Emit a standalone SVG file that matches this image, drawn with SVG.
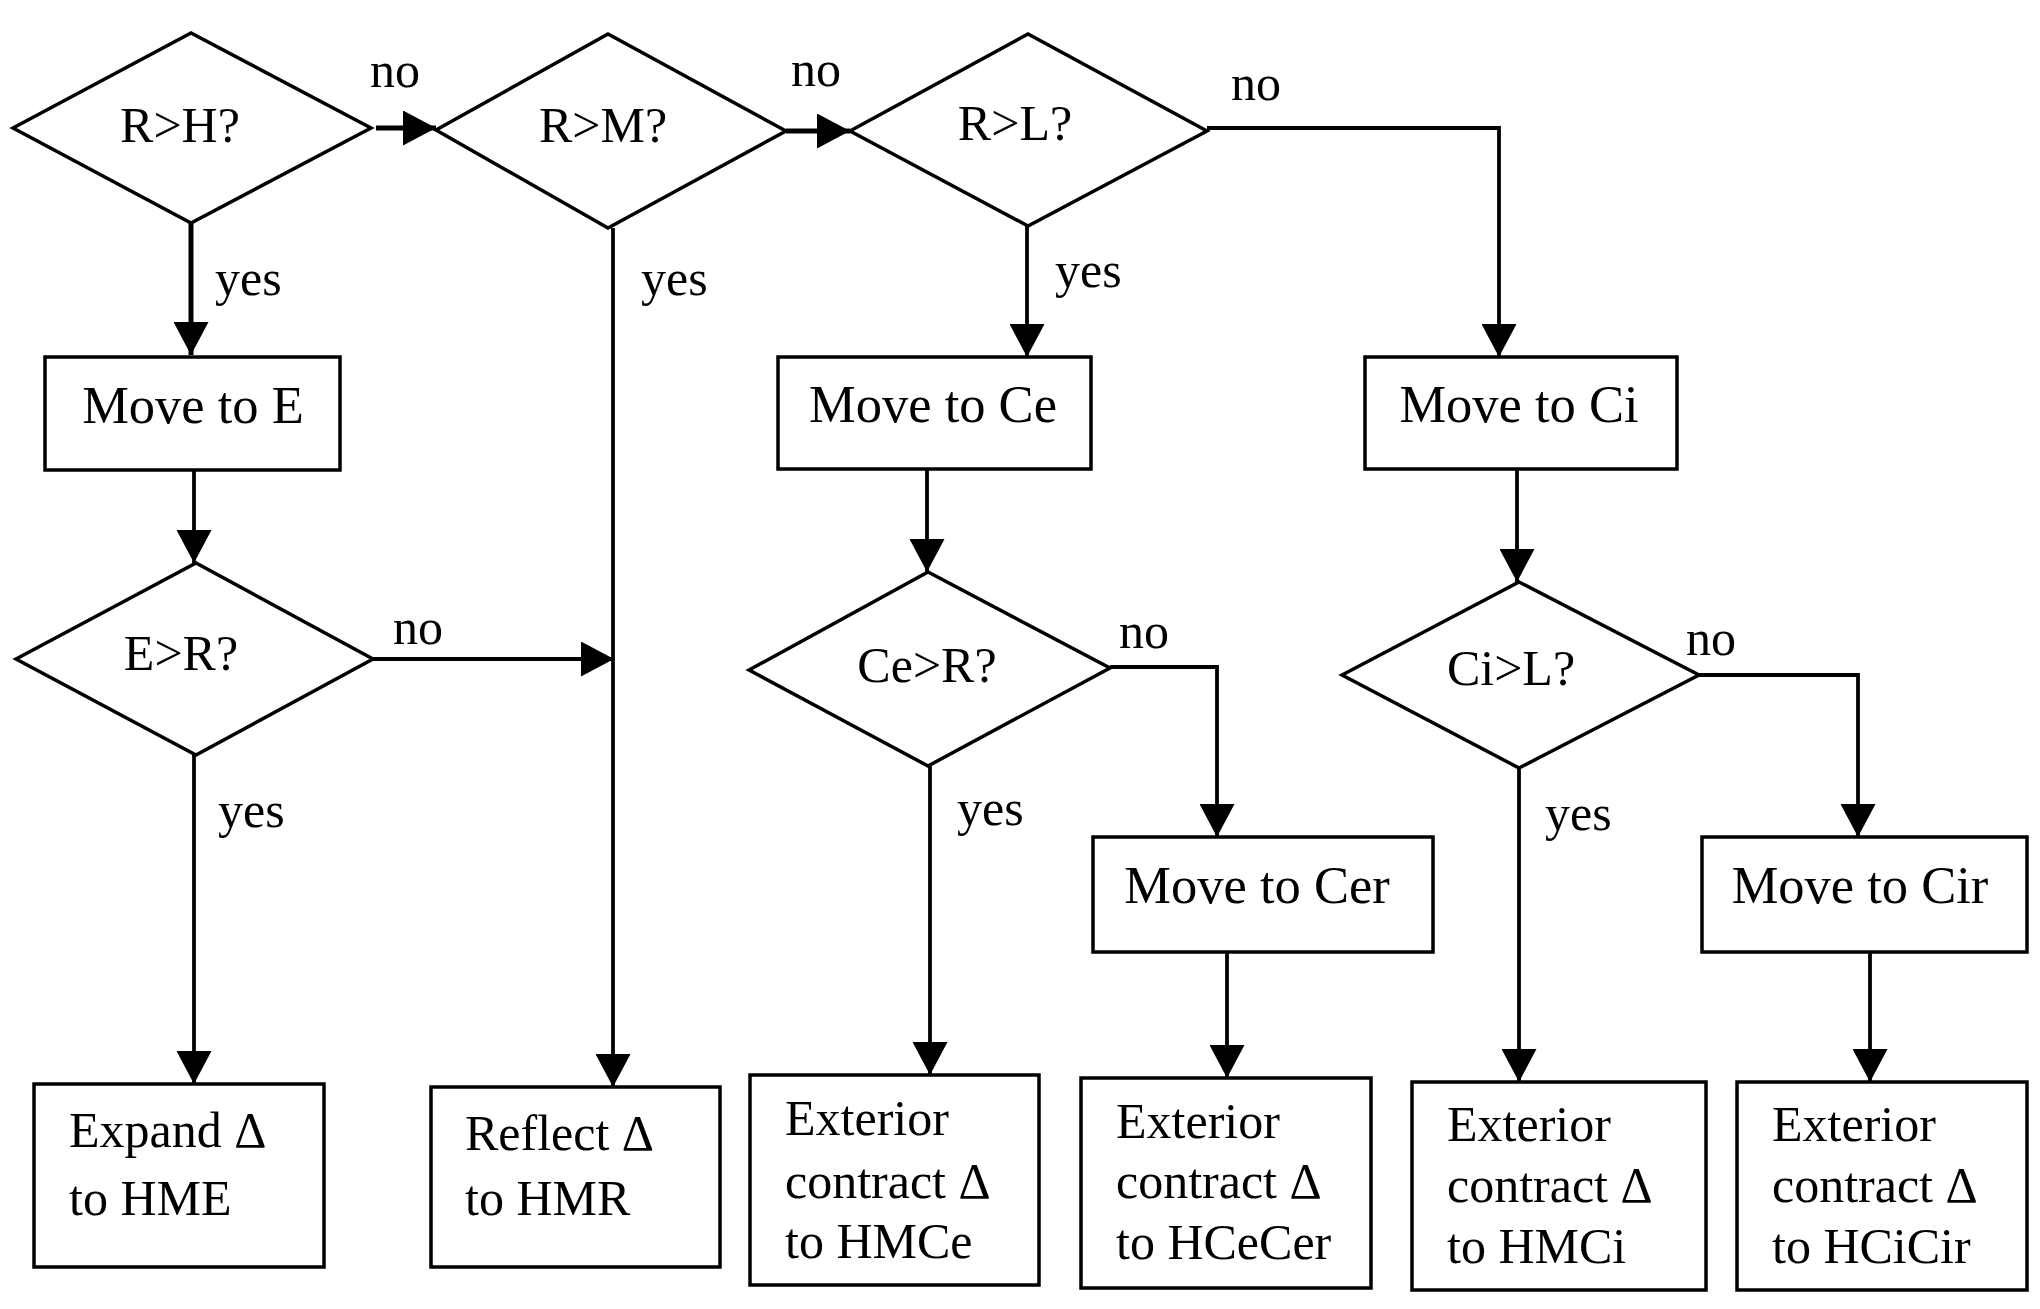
<svg xmlns="http://www.w3.org/2000/svg" width="2040" height="1309" viewBox="0 0 2040 1309">
<style>
  .shape { fill: #ffffff; stroke: #000000; stroke-width: 3.5; stroke-linejoin: miter; }
  .conn { fill: none; stroke: #000000; stroke-width: 3.8; marker-end: url(#arrow); }
  .thick { stroke-width: 5; }
  text { font-family: "Liberation Serif", "Times New Roman", serif; font-size: 50px; fill: #000000; }
  .mid { text-anchor: middle; }
  .big { font-size: 52.5px; }
</style>
<defs>
  <marker id="arrow" markerUnits="userSpaceOnUse" markerWidth="33" markerHeight="35" refX="33" refY="17.5" orient="auto">
    <path d="M0,0 L33,17.5 L0,35 Z" fill="#000000"/>
  </marker>
</defs>
<rect x="0" y="0" width="2040" height="1309" fill="#ffffff"/>

<g id="connectors">
  <path class="conn thick" d="M376,128 H436"/>
  <path class="conn thick" d="M786,131 H850"/>
  <path class="conn" d="M1207,128 H1499 V357"/>
  <path class="conn thick" d="M191,223 V355"/>
  <path class="conn" d="M613,228 V1087"/>
  <path class="conn" d="M194,470 V563"/>
  <path class="conn" d="M373,659 H614"/>
  <path class="conn" d="M194,755 V1084"/>
  <path class="conn" d="M1027,226 V357"/>
  <path class="conn" d="M927,469 V572"/>
  <path class="conn" d="M1110,667 H1217 V837"/>
  <path class="conn" d="M930,766 V1075"/>
  <path class="conn" d="M1227,952 V1078"/>
  <path class="conn" d="M1517,469 V582"/>
  <path class="conn" d="M1699,675 H1858 V837"/>
  <path class="conn" d="M1519,768 V1082"/>
  <path class="conn" d="M1870,952 V1082"/>
  <text x="370" y="87">no</text>
  <text x="791" y="86">no</text>
  <text x="1231" y="100">no</text>
  <text x="215" y="295">yes</text>
  <text x="641" y="295">yes</text>
  <text x="1055" y="287">yes</text>
  <text x="393" y="644">no</text>
  <text x="218" y="827">yes</text>
  <text x="1119" y="648">no</text>
  <text x="957" y="825">yes</text>
  <text x="1686" y="655">no</text>
  <text x="1545" y="830">yes</text>
</g>

<g id="dec-RH">
  <polygon class="shape" points="13,128 191,33 371,128 191,223"/>
  <text class="mid" x="180" y="142">R&gt;H?</text>
</g>
<g id="dec-RM">
  <polygon class="shape" points="436,130 608,34 786,131 608,228"/>
  <text class="mid" x="603" y="142">R&gt;M?</text>
</g>
<g id="dec-RL">
  <polygon class="shape" points="850,131 1028,34 1207,131 1028,226"/>
  <text class="mid" x="1015" y="140">R&gt;L?</text>
</g>
<g id="box-moveE">
  <rect class="shape" x="45" y="357" width="295" height="113"/>
  <text class="mid big" x="193" y="423">Move to E</text>
</g>
<g id="box-moveCe">
  <rect class="shape" x="778" y="357" width="313" height="112"/>
  <text class="mid big" x="933" y="422">Move to Ce</text>
</g>
<g id="box-moveCi">
  <rect class="shape" x="1365" y="357" width="312" height="112"/>
  <text class="mid big" x="1519" y="422">Move to Ci</text>
</g>
<g id="dec-ER">
  <polygon class="shape" points="16,659 196,563 373,659 196,755"/>
  <text class="mid" x="181" y="670">E&gt;R?</text>
</g>
<g id="dec-CeR">
  <polygon class="shape" points="749,670 928,572 1110,668 928,766"/>
  <text class="mid" x="927" y="682">Ce&gt;R?</text>
</g>
<g id="dec-CiL">
  <polygon class="shape" points="1342,675 1519,582 1699,675 1519,768"/>
  <text class="mid" x="1511" y="685">Ci&gt;L?</text>
</g>
<g id="box-moveCer">
  <rect class="shape" x="1093" y="837" width="340" height="115"/>
  <text class="mid big" x="1257" y="903">Move to Cer</text>
</g>
<g id="box-moveCir">
  <rect class="shape" x="1702" y="837" width="325" height="115"/>
  <text class="mid big" x="1860" y="903">Move to Cir</text>
</g>
<g id="box-expand">
  <rect class="shape" x="34" y="1084" width="290" height="183"/>
  <text x="69" y="1147">Expand Δ</text>
  <text x="69" y="1215">to HME</text>
</g>
<g id="box-reflect">
  <rect class="shape" x="431" y="1087" width="289" height="180"/>
  <text x="465" y="1150">Reflect Δ</text>
  <text x="465" y="1215">to HMR</text>
</g>
<g id="box-HMCe">
  <rect class="shape" x="750" y="1075" width="289" height="210"/>
  <text x="785" y="1135">Exterior</text>
  <text x="785" y="1198">contract Δ</text>
  <text x="785" y="1258">to HMCe</text>
</g>
<g id="box-HCeCer">
  <rect class="shape" x="1081" y="1078" width="290" height="210"/>
  <text x="1116" y="1138">Exterior</text>
  <text x="1116" y="1198">contract Δ</text>
  <text x="1116" y="1259">to HCeCer</text>
</g>
<g id="box-HMCi">
  <rect class="shape" x="1412" y="1082" width="294" height="208"/>
  <text x="1447" y="1141">Exterior</text>
  <text x="1447" y="1202">contract Δ</text>
  <text x="1447" y="1263">to HMCi</text>
</g>
<g id="box-HCiCir">
  <rect class="shape" x="1737" y="1082" width="290" height="208"/>
  <text x="1772" y="1141">Exterior</text>
  <text x="1772" y="1202">contract Δ</text>
  <text x="1772" y="1263">to HCiCir</text>
</g>
</svg>
